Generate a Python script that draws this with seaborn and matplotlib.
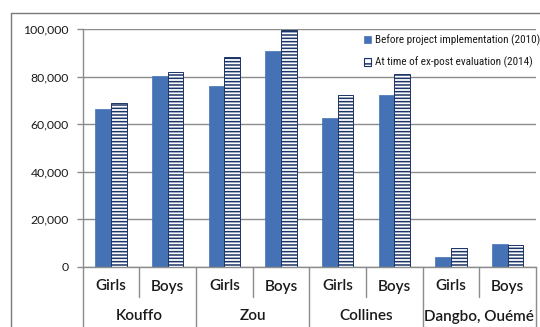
import matplotlib
matplotlib.use("Agg")
import matplotlib.pyplot as plt
from matplotlib.lines import Line2D
from matplotlib.patches import Patch
import seaborn as sns
import pandas as pd

# Enrolment figures by department and sex
departments = ["Kouffo", "Zou", "Collines", "Dangbo, Ouémé"]
sexes = ["Girls", "Boys"]
periods = ["Before project implementation (2010)", "At time of ex-post evaluation (2014)"]
before_2010 = [66400, 80300, 76200, 91000, 62800, 72300, 3800, 9550]
after_2014 = [68800, 82100, 88200, 99700, 72300, 81200, 7750, 9150]
y_ticks = [0, 20000, 40000, 60000, 80000, 100000]
y_tick_labels = ["0", "20,000", "40,000", "60,000", "80,000", "100,000"]

slots = [f"{d}|{s}" for d in departments for s in sexes]
df = pd.DataFrame({
    "slot": slots * 2,
    "period": [periods[0]] * len(slots) + [periods[1]] * len(slots),
    "value": before_2010 + after_2014,
})

sns.set_style("white")
plt.rcParams["font.family"] = ["Lato", "DejaVu Sans"]
plt.rcParams["hatch.linewidth"] = 1.1

BLUE = "#4472B4"
NAVY = "#1C3466"
GRID = "#8C8C8C"
TEXT = "#1A1A1A"

fig = plt.figure(figsize=(5.40, 3.27), dpi=100)
W, H = 540, 327
ax_left, ax_right, ax_top, ax_bottom = 82.7, 536.0, 29.3, 266.5
ax = fig.add_axes([ax_left / W, 1 - ax_bottom / H,
                   (ax_right - ax_left) / W, (ax_bottom - ax_top) / H])

sns.barplot(data=df, x="slot", y="value", hue="period", order=slots,
            hue_order=periods, palette=[BLUE, "white"], width=0.55,
            saturation=1, ax=ax, legend=False, errorbar=None)

n = len(slots)
for i, bar in enumerate(ax.patches[:2 * n]):
    if i < n:
        bar.set_edgecolor(BLUE)
        bar.set_linewidth(0.5)
    else:
        bar.set_facecolor("white")
        bar.set_edgecolor(NAVY)
        bar.set_hatch("-----")
        bar.set_linewidth(0.7)

ax.set_xlim(-0.5, n - 0.5)
ax.set_ylim(0, 100000)
ax.set_yticks(y_ticks)
ax.set_yticklabels(y_tick_labels, fontsize=8.8, color=TEXT)
ax.set_xticks([])
ax.set_xlabel("")
ax.set_ylabel("")
ax.yaxis.grid(True, color=GRID, linewidth=1.0)
ax.set_axisbelow(True)
ax.tick_params(axis="y", which="major", left=True, length=4, width=1.0,
               color=GRID, pad=6)

for side in ["top", "right"]:
    ax.spines[side].set_visible(False)
ax.spines["left"].set_color(GRID)
ax.spines["bottom"].set_color(GRID)
ax.spines["left"].set_linewidth(1.0)
ax.spines["bottom"].set_linewidth(1.0)

# Two-level category axis drawn below the plot area
trans = ax.get_xaxis_transform()
axes_h = ax_bottom - ax_top
inner_y = -(297 - ax_bottom) / axes_h
low_y = -(330 - ax_bottom) / axes_h
row1_y = -(286.5 - ax_bottom) / axes_h
row2_y = -(316.5 - ax_bottom) / axes_h

for k in range(n + 1):
    x = k - 0.5
    y_end = low_y if k % 2 == 0 else inner_y
    ax.add_line(Line2D([x, x], [0, y_end], transform=trans, color=GRID,
                       linewidth=1.0, clip_on=False))
for i, s in enumerate(slots):
    ax.text(i, row1_y, s.split("|")[1], transform=trans, ha="center",
            va="center", fontsize=11, fontweight="semibold", color=TEXT)
for j, d in enumerate(departments):
    ax.text(2 * j + 0.5, row2_y, d, transform=trans, ha="center",
            va="center", fontsize=11, fontweight="semibold", color=TEXT)

handles = [Patch(facecolor=BLUE, edgecolor=BLUE, linewidth=0.5),
           Patch(facecolor="white", edgecolor=NAVY, hatch="---", linewidth=0.8)]
leg = ax.legend(handles, periods, loc="upper left",
                bbox_to_anchor=((364 - ax_left) / (ax_right - ax_left),
                                (ax_bottom - 34.5) / axes_h),
                frameon=False, handlelength=0.65, handleheight=0.65,
                handletextpad=0.3, labelspacing=0.98, borderpad=0,
                borderaxespad=0,
                prop={"family": ["Roboto Condensed", "DejaVu Sans"],
                      "stretch": "condensed", "size": 8.0})
for t in leg.get_texts():
    t.set_color(TEXT)

# Outer chart frame
fig.add_artist(Line2D([10.7 / W, 1.0], [1 - 13.3 / H, 1 - 13.3 / H],
                      transform=fig.transFigure, color="#7A7A7A", linewidth=1.0))
fig.add_artist(Line2D([10.7 / W, 10.7 / W], [0, 1 - 13.3 / H],
                      transform=fig.transFigure, color="#7A7A7A", linewidth=1.0))

fig.savefig("out.png", dpi=100)
